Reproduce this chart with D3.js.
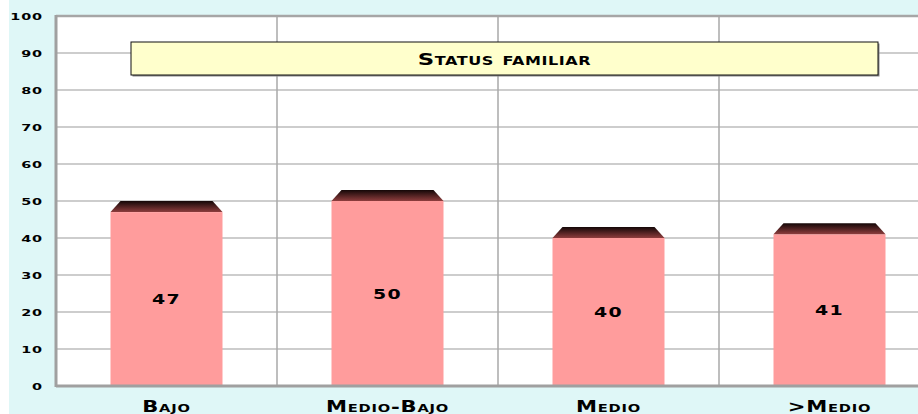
<!DOCTYPE html>
<html>
<head>
<meta charset="utf-8">
<script src="https://cdn.jsdelivr.net/npm/d3@7/dist/d3.min.js"></script>
<style>
  html, body { margin: 0; padding: 0; background: #ffffff; }
  svg { display: block; }
  text { font-family: "DejaVu Sans", Verdana, sans-serif; font-weight: bold; font-variant: small-caps; fill: #000; }
</style>
</head>
<body>
<svg id="chart" width="918" height="414"></svg>
<script>
// Family status categories and their percentages
const categories = ["Bajo", "Medio-Bajo", "Medio", ">Medio"];
const values = [47, 50, 40, 41];
const yTicks = [0, 10, 20, 30, 40, 50, 60, 70, 80, 90, 100];
const chartTitle = "Status familiar";

const svg = d3.select("#chart");
const W = 918, H = 414;

// Page backdrop
svg.append("rect").attr("x", 9).attr("y", 0).attr("width", W - 9).attr("height", H).attr("fill", "#dff7f7");

const plot = { left: 56, right: 940, top: 16, bottom: 386 };

const x = d3.scaleBand().domain(categories).range([plot.left, plot.right]).paddingInner(0).paddingOuter(0);
const y = d3.scaleLinear().domain([0, 100]).range([plot.bottom, plot.top]);

// Plot background
svg.append("rect")
  .attr("x", plot.left).attr("y", plot.top)
  .attr("width", plot.right - plot.left).attr("height", plot.bottom - plot.top)
  .attr("fill", "#ffffff");

// Horizontal grid lines
svg.append("g").selectAll("line").data(yTicks.slice(1, -1)).join("line")
  .attr("x1", plot.left).attr("x2", plot.right)
  .attr("y1", d => y(d)).attr("y2", d => y(d))
  .attr("stroke", "#bdbdbd").attr("stroke-width", 1.5);

// Vertical separators between categories
svg.append("g").selectAll("line").data(categories.slice(1)).join("line")
  .attr("x1", d => x(d)).attr("x2", d => x(d))
  .attr("y1", plot.top).attr("y2", plot.bottom)
  .attr("stroke", "#a8a8a8").attr("stroke-width", 1.5);

// Top border of the plot area
svg.append("line")
  .attr("x1", plot.left).attr("x2", plot.right)
  .attr("y1", y(100)).attr("y2", y(100))
  .attr("stroke", "#a6a6a6").attr("stroke-width", 2.5);

// Title box with a soft drop shadow
const tb = { x: 131, y: 42, w: 747, h: 33 };
svg.append("rect").attr("x", tb.x + 1.5).attr("y", tb.y + 1.5).attr("width", tb.w).attr("height", tb.h).attr("fill", "#8a8a8a");
svg.append("rect").attr("x", tb.x).attr("y", tb.y).attr("width", tb.w).attr("height", tb.h)
  .attr("fill", "#ffffcc").attr("stroke", "#111").attr("stroke-width", 1);
svg.append("text")
  .attr("transform", `translate(${tb.x + tb.w / 2},${tb.y + tb.h / 2 + 6}) scale(1.38,1)`)
  .attr("text-anchor", "middle")
  .attr("font-size", 16.5)
  .attr("letter-spacing", 0.4)
  .text(chartTitle);

// Gradient for the bevelled bar tops
const defs = svg.append("defs");
const grad = defs.append("linearGradient").attr("id", "capGrad").attr("x1", 0).attr("y1", 0).attr("x2", 0).attr("y2", 1);
grad.append("stop").attr("offset", "0%").attr("stop-color", "#140707");
grad.append("stop").attr("offset", "100%").attr("stop-color", "#8e3d3d");

const barW = 112;
const capInset = 10, capH = 11;
const bars = svg.append("g").selectAll("g").data(categories.map((c, i) => ({ c, v: values[i] }))).join("g");

bars.append("rect")
  .attr("x", d => x(d.c) + x.bandwidth() / 2 - barW / 2)
  .attr("y", d => y(d.v))
  .attr("width", barW)
  .attr("height", d => y(0) - y(d.v))
  .attr("fill", "#ff9c9c");

bars.append("path")
  .attr("d", d => {
    const x0 = x(d.c) + x.bandwidth() / 2 - barW / 2, x1 = x0 + barW, t = y(d.v);
    return `M${x0},${t} L${x0 + capInset},${t - capH} L${x1 - capInset},${t - capH} L${x1},${t} Z`;
  })
  .attr("fill", "url(#capGrad)");

bars.append("text")
  .attr("transform", d => `translate(${x(d.c) + x.bandwidth() / 2},${(y(d.v) + y(0)) / 2 + 5}) scale(1.4,1)`)
  .attr("text-anchor", "middle")
  .attr("font-size", 13.5)
  .attr("letter-spacing", 1)
  .text(d => d.v);

// Axis lines
svg.append("line").attr("x1", plot.left).attr("x2", plot.left).attr("y1", plot.top - 1).attr("y2", plot.bottom + 1)
  .attr("stroke", "#a0a0a0").attr("stroke-width", 3);
svg.append("line").attr("x1", plot.left).attr("x2", plot.right).attr("y1", plot.bottom).attr("y2", plot.bottom)
  .attr("stroke", "#a0a0a0").attr("stroke-width", 3);

// Y axis labels
const yAxis = d3.axisLeft(y).tickValues(yTicks).tickSize(0).tickPadding(0);
const yg = svg.append("g").attr("transform", `translate(${plot.left},0)`).call(yAxis);
yg.select(".domain").remove();
yg.selectAll("text")
  .attr("x", null).attr("dy", null)
  .attr("transform", "translate(-13,3.5) scale(1.7,1)")
  .attr("font-size", 8.5)
  .attr("letter-spacing", 0.5)
  .attr("font-family", "\"DejaVu Sans\", sans-serif")
  .style("font-weight", "bold")
  .attr("fill", "#000");

// Category labels
const xAxis = d3.axisBottom(x).tickSize(0).tickPadding(0);
const xg = svg.append("g").attr("transform", `translate(0,${plot.bottom})`).call(xAxis);
xg.select(".domain").remove();
xg.selectAll("text")
  .attr("y", null).attr("dy", null)
  .attr("transform", "translate(0,25.5) scale(1.32,1)")
  .attr("font-size", 16)
  .attr("letter-spacing", 0.6)
  .attr("font-family", "\"DejaVu Sans\", sans-serif")
  .style("font-weight", "bold")
  .style("font-variant", "small-caps")
  .attr("fill", "#000");
</script>
</body>
</html>
